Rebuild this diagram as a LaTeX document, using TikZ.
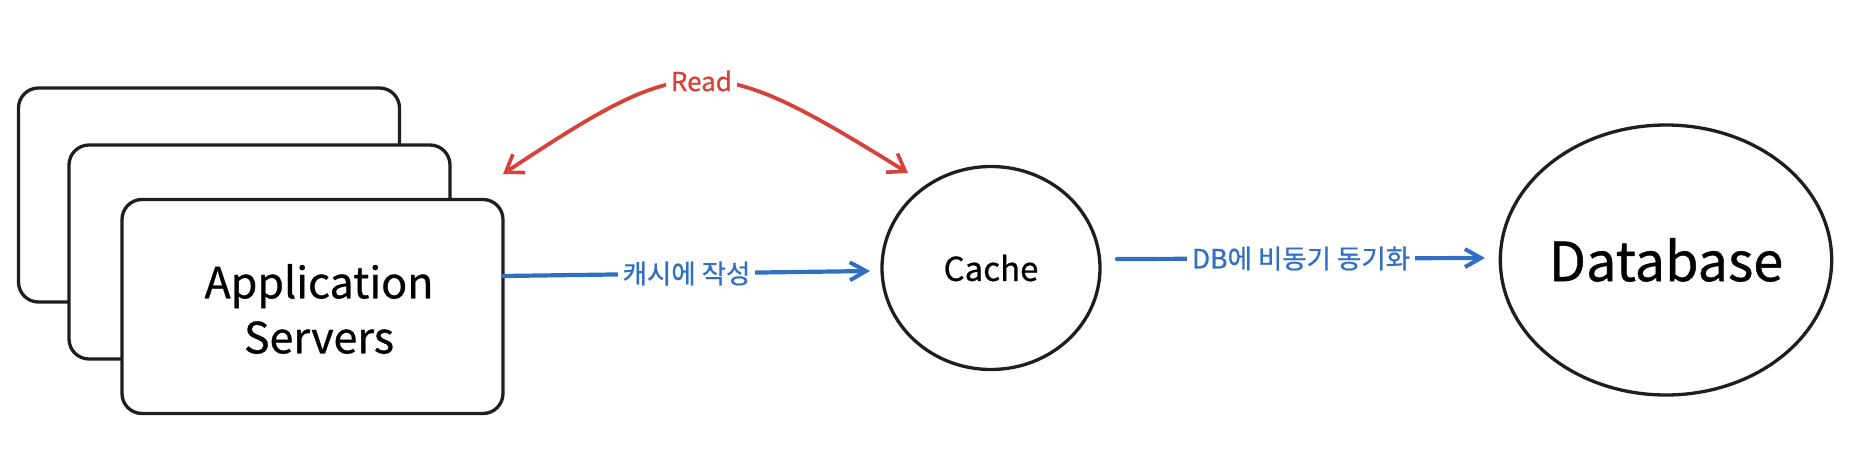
\documentclass[tikz,border=0pt]{standalone}
\usepackage{fontspec}
\setmainfont{Noto Sans CJK KR}[FakeBold=0.7]
\usetikzlibrary{arrows.meta,shapes.geometric}
\definecolor{exred}{HTML}{D8403A}
\definecolor{exblue}{HTML}{2F6FC4}
\definecolor{exblack}{HTML}{1E1E1E}
\tikzset{
  serverbox/.style={draw=exblack, line width=3.3pt, rounded corners=20pt, fill=white,
    minimum width=381pt, minimum height=214pt, inner sep=0pt},
  roundnode/.style={ellipse, draw=exblack, line width=3.3pt, inner sep=0pt, fill=white},
  bluearrow/.style={draw=exblue, line width=4.2pt, line cap=round,
    -{Straight Barb[length=16pt,width=18pt,line width=4pt]}},
  redarrow/.style={draw=exred, line width=3.8pt, line cap=round,
    {Straight Barb[length=16pt,width=22pt,line width=3.6pt]}-{Straight Barb[length=16pt,width=22pt,line width=3.6pt]}},
  bluelabel/.style={text=exblue, font=\fontsize{26.5}{30}\selectfont, fill=white, inner sep=5pt},
}
\begin{document}
\begin{tikzpicture}[x=1pt,y=-1pt]
\useasboundingbox (0,0) rectangle (1858,450);
% stacked application server boxes
\node[serverbox] (back) at (209,195) {};
\node[serverbox] (middle) at (259.5,252) {};
\node[serverbox] (app) at (312.5,306.5) {};
\node[align=center, font=\fontsize{43}{55}\selectfont] (applabel) at (319,309) {Application\\Servers};
% cache and database
\node[roundnode, minimum width=218pt, minimum height=203pt, font=\fontsize{33}{38}\selectfont] (cache) at (991,268) {Cache};
\node[roundnode, minimum width=302pt, minimum height=270pt, font=\fontsize{54}{62}\selectfont] (db) at (1666,260) {Database};
% coordinates for connector ends
\coordinate (readL) at (503,174);
\coordinate (readR) at (908,173);
\coordinate (w1) at (503,276);
\coordinate (c1) at (870,271);
\coordinate (s2) at (1117,259);
\coordinate (t2) at (1485,258);
% Read arrow
\draw[redarrow] (readL) .. controls (690,50) and (710,50) .. (readR)
  node[pos=0.5, fill=white, text=exred, font=\fontsize{26}{30}\selectfont, inner sep=5pt] (read) {Read};
% write to cache
\draw[bluearrow] (w1) -- (c1) node[midway, bluelabel] (lab1) {캐시에 작성};
% async sync to DB
\draw[bluearrow] (s2) -- (t2) node[midway, bluelabel] (lab2) {DB에 비동기 동기화};
\end{tikzpicture}
\end{document}
